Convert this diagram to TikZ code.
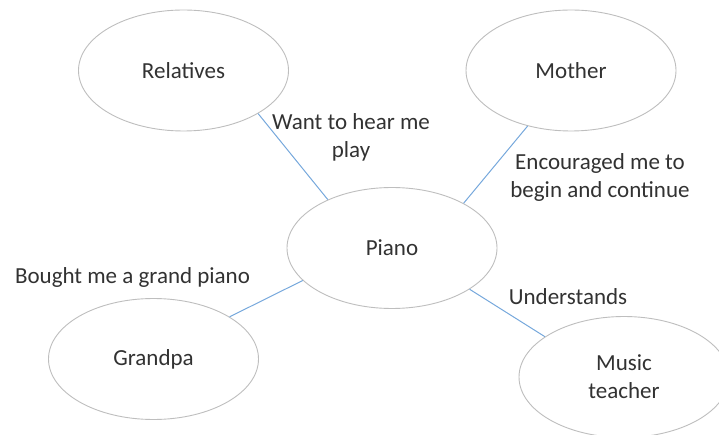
\documentclass[tikz,border=0pt]{standalone}
\usepackage{fontspec}
\setmainfont{Carlito}
\usepackage{tikz}
\usetikzlibrary{shapes.geometric}

\definecolor{rimgray}{RGB}{190,190,190}
\definecolor{linkblue}{RGB}{118,168,220}
\definecolor{inkgray}{RGB}{50,50,50}

\tikzset{
  bubble/.style={ellipse, draw=rimgray, line width=0.9pt, fill=white,
    minimum width=210pt, minimum height=121pt, inner sep=0pt,
    text=inkgray, align=center, font=\fontsize{23}{28}\selectfont},
  link/.style={draw=linkblue, line width=1pt},
  note/.style={text=inkgray, align=center, inner sep=0pt,
    font=\fontsize{23}{28}\selectfont}
}

\begin{document}
\begin{tikzpicture}[x=1pt,y=-1pt]
\useasboundingbox (0,0) rectangle (719,435);
\clip (0,0) rectangle (719,435);
\coordinate (r) at (183.5,70.5);
\coordinate (m) at (571,70.5);
\coordinate (p) at (392,248);
\coordinate (g) at (153.5,359);
\coordinate (t) at (624,377);
\begin{scope}
% draws bubbles
\node[bubble] (relatives) at (r) {Relatives};
\node[bubble] (mother) at (m) {Mother};
\node[bubble] (piano) at (p) {Piano};
\node[bubble] (grandpa) at (g) {Grandpa};
\node[bubble] (teacher) at (t) {Music\\teacher};
% labels links
\node[note] (want) at (351,137) {Want to hear me\\play};
\node[note] (enc) at (600,177) {Encouraged me to\\begin and continue};
\node[note] (bought) at (132.5,277) {Bought me a grand piano};
\node[note] (und) at (568,297) {Understands};
% draws links
\draw[link] (relatives.-30) -- (piano.143);
\draw[link] (mother.-128) -- (piano.32);
\draw[link] (grandpa.29) -- (piano.200);
\draw[link] (piano.-28) -- (teacher.153);
\end{scope}
\end{tikzpicture}
\end{document}
